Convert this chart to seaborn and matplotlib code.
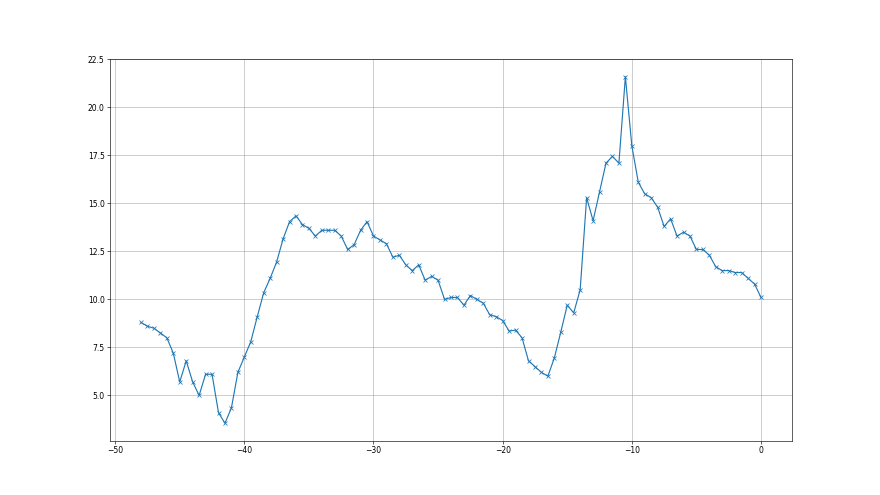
import numpy as np
import matplotlib
matplotlib.use("Agg")
import matplotlib.pyplot as plt
import seaborn as sns

# time offsets, sampled every half unit
x_vals = np.arange(-48, 0.5, 0.5)

y_vals = [
    8.8, 8.6, 8.5, 8.25, 8.0, 7.2, 5.7, 6.8, 5.7, 5.0,
    6.1, 6.1, 4.1, 3.55, 4.35, 6.2, 7.0, 7.8, 9.1, 10.35,
    11.1, 11.95, 13.15, 14.05, 14.35, 13.9, 13.7, 13.3, 13.6, 13.6,
    13.6, 13.3, 12.6, 12.85, 13.6, 14.05, 13.3, 13.1, 12.9, 12.2,
    12.3, 11.8, 11.5, 11.8, 11.0, 11.2, 11.0, 10.0, 10.1, 10.1,
    9.7, 10.2, 10.0, 9.8, 9.2, 9.1, 8.9, 8.35, 8.4, 8.0,
    6.8, 6.5, 6.2, 6.0, 6.95, 8.3, 9.7, 9.3, 10.5, 15.3,
    14.1, 15.6, 17.1, 17.45, 17.1, 21.6, 18.0, 16.1, 15.5, 15.3,
    14.8, 13.8, 14.2, 13.3, 13.5, 13.3, 12.6, 12.6, 12.3, 11.7,
    11.5, 11.5, 11.4, 11.4, 11.1, 10.8, 10.1,
]

fig, ax = plt.subplots(figsize=(16, 9), dpi=55)
sns.lineplot(x=x_vals, y=y_vals, ax=ax, color="C0", marker="x",
             markeredgecolor="C0", markeredgewidth=1.0, markersize=6,
             linewidth=1.5)
ax.grid(True, color="#b0b0b0", linewidth=0.8)
ax.set_axisbelow(True)

fig.savefig("out.png", dpi=55)
